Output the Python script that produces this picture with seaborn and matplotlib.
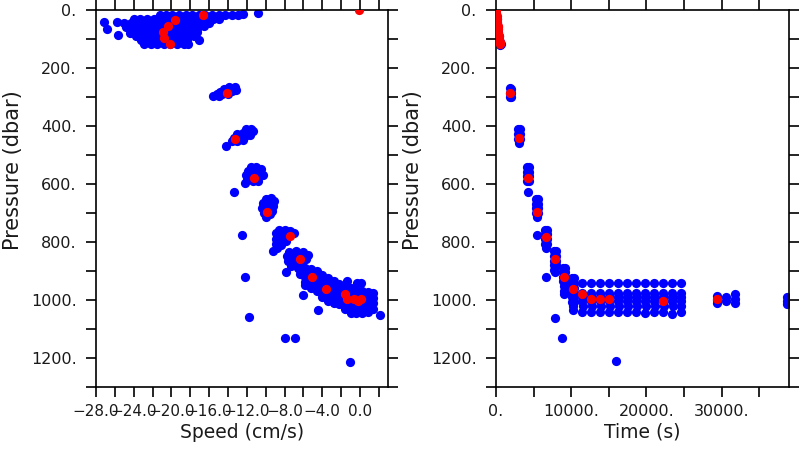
"""
Pressure vs speed and pressure vs time scatter plots (float descent).
"""
import seaborn as sns
import pandas as pd
import matplotlib.pyplot as plt

# Blue samples, left panel: (speed cm/s, pressure dbar)
speed_blue = [
    # near-surface cluster
    (-22.9, 117), (-22.2, 117), (-21.5, 117), (-20.8, 117), (-20.1, 117), (-19.4, 117), (-18.7, 117), (-18.2, 117),
    (-23.2, 104), (-22.5, 104), (-21.8, 104), (-21.1, 104), (-20.4, 104), (-19.7, 104), (-19.0, 104), (-18.3, 104), (-17.1, 104),
    (-25.7, 86), (-24.4, 80), (-23.8, 90), (-23.1, 90), (-22.4, 90), (-21.7, 90), (-21.0, 90), (-20.3, 90), (-19.6, 90),
    (-18.9, 90), (-18.2, 90), (-17.6, 90),
    (-24.2, 75), (-23.5, 75), (-22.8, 75), (-22.1, 75), (-21.4, 75), (-20.7, 75), (-20.0, 75), (-19.3, 75), (-18.6, 75),
    (-17.9, 75), (-17.3, 75),
    (-26.8, 64), (-24.8, 60), (-24.1, 60), (-23.4, 60), (-22.7, 60), (-22.0, 60), (-21.3, 60), (-20.6, 60), (-19.9, 60),
    (-19.2, 60), (-18.5, 60), (-17.8, 60), (-17.2, 60), (-16.5, 54),
    (-27.2, 42), (-25.8, 42), (-25.0, 45), (-24.3, 45), (-23.6, 45), (-22.9, 45), (-22.2, 45), (-21.5, 45), (-20.8, 45),
    (-20.1, 45), (-19.4, 45), (-18.7, 45), (-18.0, 45), (-17.3, 45), (-16.6, 45), (-16.0, 45),
    (-24.0, 30), (-23.3, 30), (-22.6, 30), (-21.9, 30), (-21.2, 30), (-20.5, 30), (-19.8, 30), (-19.1, 30), (-18.4, 30),
    (-17.7, 30), (-17.0, 30), (-16.3, 30), (-15.6, 30), (-15.0, 30), (-15.4, 28),
    (-21.2, 18), (-20.6, 18), (-19.9, 18), (-19.2, 18), (-18.5, 18), (-17.8, 18), (-17.1, 18), (-16.4, 18), (-15.7, 18),
    (-15.0, 18), (-14.3, 18), (-13.6, 18), (-12.9, 16), (-12.4, 15), (-10.8, 10),
    # ~280 dbar
    (-15.6, 298), (-15.0, 297), (-15.2, 290), (-14.6, 290), (-14.0, 288), (-14.8, 283), (-14.2, 281), (-13.6, 279),
    (-13.2, 275), (-14.4, 274), (-13.8, 271), (-13.3, 266), (-13.9, 265),
    # ~430 dbar
    (-13.6, 452), (-13.0, 452), (-12.4, 448), (-13.4, 440), (-12.8, 438), (-12.2, 435), (-11.7, 430), (-13.0, 428),
    (-12.4, 424), (-11.8, 420), (-11.6, 412), (-12.1, 410), (-11.3, 418), (-14.2, 468),
    # ~570 dbar
    (-11.6, 542), (-11.0, 540), (-10.5, 548), (-11.9, 555), (-11.3, 555), (-10.6, 560), (-10.3, 568), (-12.1, 570),
    (-11.5, 570), (-10.9, 575), (-12.0, 585), (-11.4, 588), (-10.8, 590), (-12.2, 596), (-13.4, 627),
    # ~690 dbar
    (-10.0, 652), (-9.4, 650), (-9.1, 660), (-10.3, 665), (-9.7, 668), (-9.2, 675), (-10.4, 682), (-9.8, 688),
    (-9.3, 692), (-10.2, 700), (-9.6, 705), (-10.0, 715), (-12.5, 776),
    # ~780 dbar
    (-8.6, 757), (-8.0, 757), (-7.4, 762), (-7.0, 770), (-8.9, 770), (-8.3, 772), (-7.7, 777), (-8.9, 788),
    (-8.3, 792), (-7.8, 795), (-8.9, 806), (-8.4, 810), (-8.8, 820), (-9.2, 830),
    # ~860 dbar
    (-7.5, 835), (-6.8, 830), (-6.1, 833), (-5.5, 845), (-7.7, 850), (-7.0, 850), (-6.3, 852), (-5.7, 860),
    (-7.6, 866), (-6.9, 870), (-6.2, 872), (-7.3, 884), (-6.6, 888), (-7.8, 903),
    # band toward bottom
    (-6.4, 897), (-6.4, 912),
    (-5.8, 890), (-5.8, 906), (-5.8, 922), (-5.8, 938), (-5.8, 950),
    (-5.2, 893), (-5.2, 910), (-5.2, 927), (-5.2, 944), (-5.2, 960),
    (-4.6, 900), (-4.6, 917), (-4.6, 934), (-4.6, 951), (-4.6, 968),
    (-4.0, 915), (-4.0, 933), (-4.0, 951), (-4.0, 970), (-4.0, 988),
    (-3.4, 925), (-3.4, 945), (-3.4, 965), (-3.4, 985), (-3.4, 1003),
    (-2.8, 935), (-2.8, 954), (-2.8, 973), (-2.8, 992), (-2.8, 1010),
    (-2.2, 945), (-2.2, 963), (-2.2, 981), (-2.2, 999), (-2.2, 1015),
    (-1.6, 955), (-1.6, 974), (-1.6, 993), (-1.6, 1012), (-1.6, 1030),
    (-1.0, 960), (-1.0, 978), (-1.0, 996), (-1.0, 1014), (-1.0, 1032), (-1.0, 1045),
    (-0.4, 965), (-0.4, 982), (-0.4, 999), (-0.4, 1016), (-0.4, 1032), (-0.4, 1045),
    (0.2, 970), (0.2, 986), (0.2, 1002), (0.2, 1018), (0.2, 1034), (0.2, 1045),
    (0.8, 972), (0.8, 989), (0.8, 1006), (0.8, 1023), (0.8, 1040),
    (1.4, 975), (1.4, 993), (1.4, 1011), (1.4, 1030),
    # outliers
    (-1.4, 936), (-0.3, 941), (0.1, 941), (2.1, 1052), (-4.5, 1034), (-6.1, 983), (-1.1, 1214),
    (-8.0, 1131), (-6.9, 1131), (-12.2, 922), (-11.8, 1060),
]

# Red points, left panel
speed_red = [
    (-0.1, 0), (-16.6, 17), (-19.6, 35), (-20.4, 56), (-20.9, 77), (-20.8, 98), (-20.1, 117),
    (-14.1, 287), (-13.3, 445), (-11.2, 578), (-9.9, 695), (-7.4, 781), (-6.4, 858), (-5.1, 919),
    (-3.6, 961), (-1.6, 980), (-1.4, 996), (-0.6, 996), (-0.2, 1003), (0.1, 996),
]

# Blue samples, right panel: (time s, pressure dbar)
time_blue = [
    (0, 0), (60, 15), (120, 30), (180, 45), (240, 60), (300, 75), (360, 90), (420, 102), (480, 112), (560, 120), (620, 116),
    (1800, 270), (1950, 272), (1800, 285), (1950, 285), (1800, 300), (1950, 300),
    (2950, 412), (3150, 412), (2950, 428), (3150, 428), (2950, 444), (3150, 444), (3050, 460),
    (4150, 542), (4350, 542), (4150, 558), (4350, 558), (4150, 574), (4350, 574), (4150, 590), (4350, 590), (4250, 627),
    (5350, 652), (5550, 652), (5350, 668), (5550, 668), (5350, 684), (5550, 684), (5350, 700), (5550, 700),
    (5450, 715), (5450, 776),
    (6550, 757), (6750, 757), (6550, 773), (6750, 773), (6550, 790), (6750, 790), (6550, 806), (6750, 806),
    (6650, 822), (6650, 922),
    (7750, 832), (7950, 832), (7750, 848), (7950, 848), (7750, 864), (7950, 864), (7750, 880), (7950, 880),
    (7750, 896), (7850, 905), (7850, 1062),
    (8950, 888), (9150, 888), (8950, 904), (9150, 904), (8950, 920), (9150, 920), (8950, 936), (9150, 936),
    (9050, 952), (9050, 968), (9050, 980), (8820, 1132),
    (10150, 925), (10350, 925), (10150, 942), (10350, 942), (10150, 958), (10350, 958), (10150, 975), (10350, 975),
    (10150, 990), (10350, 990), (10150, 1006), (10350, 1006), (10250, 1020), (10250, 1034),
    (11480, 940), (11400, 975), (11560, 990), (11400, 1005), (11560, 1020), (11480, 1040),
    (12670, 940), (12600, 975), (12750, 990), (12600, 1005), (12750, 1020), (12670, 1042),
    (13870, 940), (13800, 975), (13950, 990), (13800, 1005), (13950, 1020), (13870, 1042),
    (15070, 940), (15000, 975), (15150, 990), (15000, 1005), (15150, 1020), (15070, 1042),
    (16270, 940), (16200, 975), (16350, 990), (16200, 1005), (16350, 1020), (16270, 1040), (15960, 1210),
    (17460, 940), (17400, 975), (17550, 990), (17400, 1005), (17550, 1020), (17460, 1042),
    (18660, 940), (18600, 975), (18750, 990), (18600, 1005), (18750, 1020), (18660, 1042),
    (19860, 940), (19800, 975), (19950, 990), (19800, 1005), (19950, 1020), (19860, 1044),
    (21060, 940), (21000, 975), (21150, 990), (21000, 1005), (21150, 1020), (21060, 1042),
    (22250, 940), (22150, 975), (22350, 990), (22150, 1005), (22350, 1020), (22250, 1040),
    (23450, 940), (23350, 975), (23550, 990), (23350, 1005), (23550, 1020), (23400, 1048),
    (24600, 940), (24550, 975), (24650, 990), (24550, 1005), (24650, 1020), (24600, 1042),
    (29400, 985), (29400, 1000), (29400, 1012),
    (30600, 990), (30600, 1005),
    (31800, 980), (31800, 995), (31800, 1012),
    (38700, 988), (38700, 1002), (38700, 1014),
]

# Red points, right panel
time_red = [
    (0, 0), (40, 10), (80, 20), (120, 30), (170, 42), (220, 54), (270, 66), (320, 78), (370, 90), (420, 100),
    (470, 110), (520, 118),
    (1860, 287), (3060, 442), (4250, 578), (5450, 695), (6650, 783), (7850, 860), (9080, 920), (10280, 962),
    (11480, 980), (12670, 998), (13870, 998), (15070, 998), (22250, 1003), (29400, 996),
]

# Axis ticks and labels
pres_ticks = list(range(0, 1301, 100))
pres_labels = ["0.", "", "200.", "", "400.", "", "600.", "", "800.", "", "1000.", "", "1200.", ""]
speed_ticks = list(range(-28, 3, 2))
speed_labels = ["\u221228.0", "", "\u221224.0", "", "\u221220.0", "", "\u221216.0", "", "\u221212.0", "",
                "\u22128.0", "", "\u22124.0", "", "0.0", ""]
time_ticks = list(range(0, 35001, 5000))
time_labels = ["0.", "", "10000.", "", "20000.", "", "30000.", ""]


def style_axis(ax, xticks, xlabels, xlabel, xsize):
    ax.set_ylim(1300, 0)
    ax.set_yticks(pres_ticks)
    ax.set_yticklabels(pres_labels)
    ax.set_xticks(xticks)
    ax.set_xticklabels(xlabels)
    ax.tick_params(axis="both", direction="out", length=7, width=1.2, color="black",
                   top=True, right=True, labelsize=11.5, labelcolor="#1a1a1a")
    ax.tick_params(axis="y", pad=7)
    ax.tick_params(axis="x", pad=5, labelsize=xsize)
    for sp in ax.spines.values():
        sp.set_visible(True)
        sp.set_linewidth(1.2)
        sp.set_color("black")
    ax.set_xlabel(xlabel, fontsize=13.5, labelpad=3, color="#1a1a1a")
    ax.set_ylabel("Pressure (dbar)", fontsize=15, color="#1a1a1a")
    ax.yaxis.set_label_coords(-0.25, 0.576)


def scatter(ax, pts, color, xname):
    df = pd.DataFrame(pts, columns=[xname, "pressure"])
    sns.scatterplot(data=df, x=xname, y="pressure", color=color, s=44, linewidth=0,
                    ax=ax, legend=False, zorder=3 if color == "red" else 2)


sns.set_style("ticks")
plt.rcParams["font.family"] = ["DejaVu Sans"]

fig = plt.figure(figsize=(8, 4.5), dpi=100)
ax1 = fig.add_axes([0.12, 0.14, 0.3654, 0.8378])
ax2 = fig.add_axes([0.62, 0.14, 0.3666, 0.8378])

# Left: speed
scatter(ax1, speed_blue, "blue", "speed")
scatter(ax1, speed_red, "red", "speed")
ax1.set_xlim(-28, 3)
style_axis(ax1, speed_ticks, speed_labels, "Speed (cm/s)", 11)

# Right: time
scatter(ax2, time_blue, "blue", "time")
scatter(ax2, time_red, "red", "time")
ax2.set_xlim(0, 39000)
style_axis(ax2, time_ticks, time_labels, "Time (s)", 11.5)

fig.savefig("out.png", dpi=100)
